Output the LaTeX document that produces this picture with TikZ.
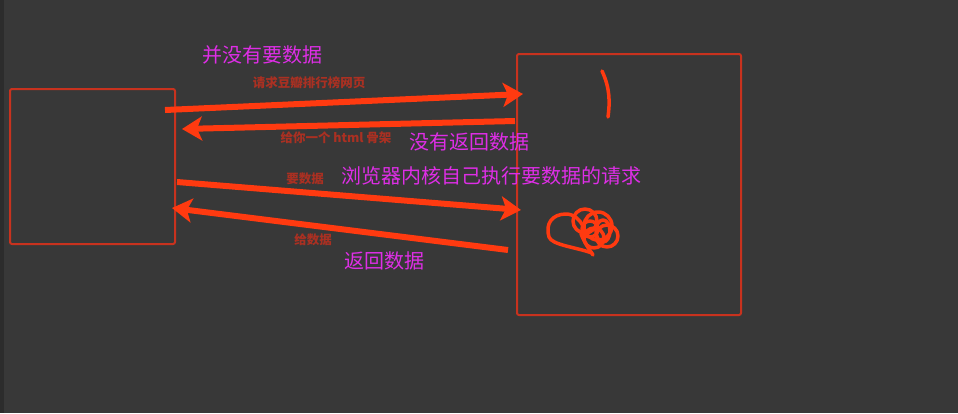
\documentclass[tikz,border=0pt]{standalone}
\usepackage{fontspec}
\setmainfont{Noto Sans CJK SC}
\usetikzlibrary{positioning, arrows.meta, calc}

\definecolor{bgdark}{RGB}{56,56,56}
\definecolor{bgedge}{RGB}{44,44,44}
\definecolor{boxred}{RGB}{200,50,30}
\definecolor{arrowred}{RGB}{255,58,16}
\definecolor{labelred}{RGB}{170,48,34}
\definecolor{notepink}{RGB}{222,46,230}

\begin{document}
\begin{tikzpicture}[
    x=1pt, y=-1pt,
    >={Stealth[length=20pt,width=24pt,inset=5pt]},
    box/.style    ={rectangle, rounded corners=2pt, draw=boxred, line width=2pt, inner sep=0pt},
    flow/.style   ={->, draw=arrowred, line width=6pt},
    small/.style  ={font=\fontsize{12.5}{14}\selectfont\bfseries, text=labelred, inner sep=0pt},
    note/.style   ={font=\fontsize{20}{24}\selectfont, text=notepink, inner sep=0pt},
    scribble/.style={draw=arrowred, line width=3.5pt, line cap=round, line join=round},
]

%==================== BACKGROUND ====================

\fill[bgdark] (0,0) rectangle (958,413);
\fill[bgedge] (0,0) rectangle (4,413);
\useasboundingbox (0,0) rectangle (958,413);

%==================== BOXES ====================

\node[box, minimum width=165pt, minimum height=155pt] (client) at (92.5,166.5) {};
\node[box, minimum width=224pt, minimum height=261pt] (server) at (629,184.5) {};

% arrow end points
\coordinate (reqA)  at (165,110);
\coordinate (reqB)  at (523,94);
\coordinate (skelA) at (515,121);
\coordinate (skelB) at (182,129);
\coordinate (askA)  at (177,182);
\coordinate (askB)  at (521,210);
\coordinate (giveA) at (508,250);
\coordinate (giveB) at (172,208);

%==================== ARROWS ====================

\draw[flow] (reqA)  -- (reqB);
\draw[flow] (skelA) -- (skelB);
\draw[flow] (askA)  -- (askB);
\draw[flow] (giveA) -- (giveB);

%==================== LABELS ====================

\node[small] (lreq)  at (309,83)  {请求豆瓣排行榜网页};
\node[small] (lskel) at (336,138) {给你一个 html 骨架};
\node[small] (lask)  at (305,179) {要数据};
\node[small] (lgive) at (313,240) {给数据};

\node[note] (n1) at (262,55)  {并没有要数据};
\node[note] (n2) at (469,142) {没有返回数据};
\node[note] (n3) at (491,176) {浏览器内核自己执行要数据的请求};
\node[note] (n4) at (384,261) {返回数据};

%==================== SCRIBBLES ====================

\draw[scribble] (602,71) .. controls (610,88) and (610,102) .. (608,117);
\draw[scribble] (592,253) .. controls (575,247) and (552,245) .. (549,237)
                .. controls (545,224) and (552,214) .. (566,214)
                .. controls (574,214) and (580,220) .. (583,226);
\draw[scribble] (585,221) circle[radius=12];
\draw[scribble] (598,226) circle[radius=14];
\draw[scribble] (607,236) circle[radius=11];
\draw[scribble] (594,238) circle[radius=10];
\draw[scribble] (590,229) circle[radius=8];
\draw[scribble] (603,231) ellipse[x radius=7, y radius=11];
\draw[scribble] (581,234) .. controls (586,246) and (590,250) .. (593,255);

\end{tikzpicture}
\end{document}
